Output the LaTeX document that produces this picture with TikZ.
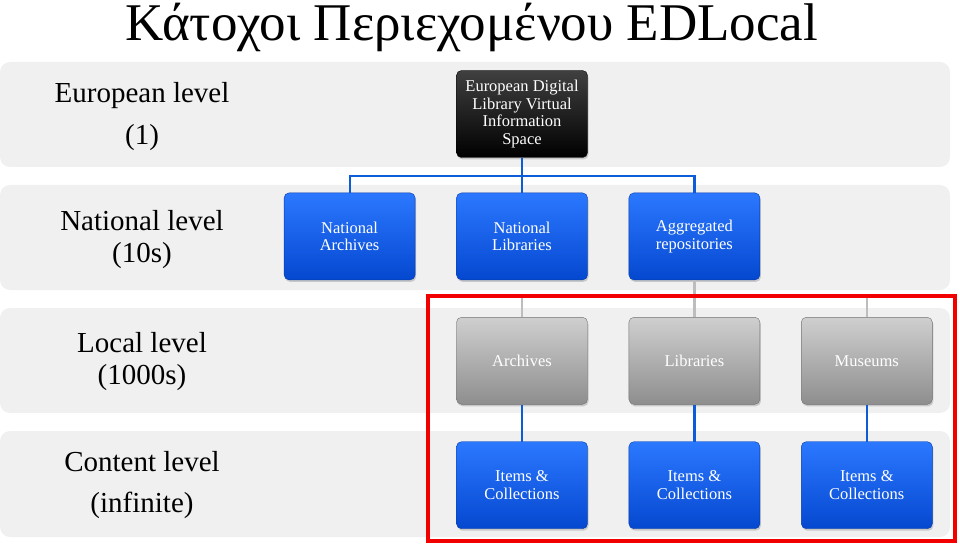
\documentclass[tikz,border=0pt]{standalone}
\usepackage{fontspec}
\setmainfont{Liberation Serif}
\usetikzlibrary{positioning,shadows,calc}
\definecolor{bandgray}{HTML}{F0F0F0}
\definecolor{blueTop}{HTML}{2B78FF}
\definecolor{blueBot}{HTML}{0548D0}
\definecolor{blueLine}{HTML}{0C5BD8}
\definecolor{grayTop}{HTML}{CFCFCF}
\definecolor{grayBot}{HTML}{8E8E8E}
\definecolor{grayLine}{HTML}{BDBDBD}
\definecolor{frameRed}{HTML}{F20000}

\begin{document}
\begin{tikzpicture}[
  x=1pt, y=1pt, node distance=35pt and 41pt,
  band/.style={fill=bandgray, rounded corners=10pt},
  lvl/.style={align=center, font=\fontsize{29}{32}\selectfont},
  box/.style={rounded corners=5pt, align=center, minimum width=131pt,
              minimum height=87pt, inner sep=2pt, text=white,
              font=\fontsize{16.5}{17.5}\selectfont,
              drop shadow={opacity=0.35, shadow xshift=1pt, shadow yshift=-2pt}},
  bluebox/.style={box, top color=blueTop, bottom color=blueBot, draw=blueBot!80!black},
  graybox/.style={box, top color=grayTop, bottom color=grayBot, draw=grayBot!80!black},
  blackbox/.style={box, top color=black!75, bottom color=black, draw=black},
  link/.style={blueLine, line width=2.2pt},
  glink/.style={grayLine, line width=2.2pt},
]
\useasboundingbox (0,0) rectangle (960,547);
\fill[band] (0,380) rectangle (950,485);
\fill[band] (0,257) rectangle (950,362);
\fill[band] (0,134) rectangle (950,239);
\fill[band] (0,10) rectangle (950,116);
\node[font=\fontsize{53}{55}\selectfont, anchor=base, inner sep=0pt] (title) at (472,506) {Κάτοχοι Περιεχομένου EDLocal};
\node[lvl] (lvlEu) at (142,430) {European level\\[10pt](1)};
\node[lvl] (lvlNat) at (142,307) {National level\\(10s)};
\node[lvl] (lvlLoc) at (142,185) {Local level\\(1000s)};
\node[lvl] (lvlCon) at (142,62) {Content level\\[9pt](infinite)};
\node[blackbox] (edl) at (522,433) {European Digital\\Library Virtual\\Information\\Space};
\node[bluebox, below=of edl] (natLib) {National\\Libraries};
\node[bluebox, left=of natLib] (natArch) {National\\Archives};
\node[bluebox, right=of natLib] (aggr) {Aggregated\\repositories};
\node[graybox, below=37pt of natLib] (locArch) {Archives};
\node[graybox, right=of locArch] (locLib) {Libraries};
\node[graybox, right=of locLib] (locMus) {Museums};
\node[bluebox, below=37pt of locArch] (items1) {Items \&\\Collections};
\node[bluebox, below=37pt of locLib] (items2) {Items \&\\Collections};
\node[bluebox, below=37pt of locMus] (items3) {Items \&\\Collections};
\coordinate (natBus) at ($(edl.south)+(0,-18)$);
\draw[link] (edl.south) -- (natBus);
\draw[link] (natArch.north) |- (natBus) -| (aggr.north);
\draw[link] (natBus) -- (natLib.north);
\coordinate (locBus) at ($(aggr.south)+(0,-17)$);
\draw[glink] (aggr.south) -- (locBus);
\draw[glink] (locArch.north) |- (locBus) -| (locMus.north);
\draw[glink] (locBus) -- (locLib.north);
\draw[link] (locArch) -- (items1);
\draw[link] (locLib) -- (items2);
\draw[link] (locMus) -- (items3);
\draw[frameRed, line width=4pt] (428,6) rectangle (955,251);
\end{tikzpicture}
\end{document}
